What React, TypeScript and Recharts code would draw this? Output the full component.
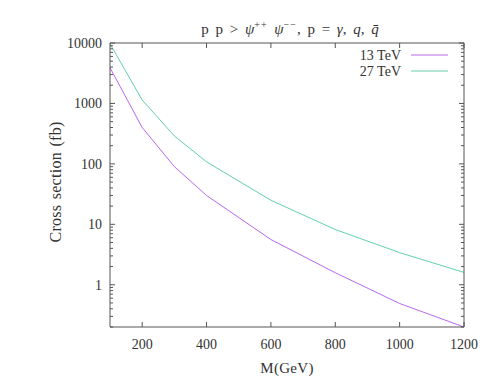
import React from 'react';
import { LineChart, Line, XAxis, YAxis } from 'recharts';

const masses = [100, 200, 300, 400, 600, 800, 1000, 1200];
const xsec13 = [3900, 400, 90, 30, 5.6, 1.58, 0.49, 0.2];
const xsec27 = [9700, 1140, 290, 108, 25, 8.2, 3.4, 1.6];

const xTicks = [200, 400, 600, 800, 1000, 1200];
const yDecades = [1, 10, 100, 1000, 10000];
const yMinor = [0.2, 0.3, 0.4, 0.5, 0.6, 0.7, 0.8, 0.9, 2, 3, 4, 5, 6, 7, 8, 9, 20, 30, 40, 50, 60, 70, 80, 90,
  200, 300, 400, 500, 600, 700, 800, 900, 2000, 3000, 4000, 5000, 6000, 7000, 8000, 9000];
const yTicks = [...yMinor, ...yDecades].sort((a, b) => a - b);

const seriesNames = ['13 TeV', '27 TeV'];
const colors = ['#b868ec', '#62d0a8'];

const data = masses.map((m, i) => ({ m, s13: xsec13[i], s27: xsec27[i] }));

const FONT = '"Liberation Serif", "DejaVu Serif", serif';
const TEXT = '#333';
const AXIS = '#555';

const BottomTick = (props: any) => {
  const { x, y, payload } = props;
  return (
    <g>
      <line x1={x} y1={y} x2={x} y2={y - 5} stroke={AXIS} />
      <text x={x} y={y + 22} textAnchor="middle" fontFamily={FONT} fontSize={14} fill={TEXT}>
        {payload.value}
      </text>
    </g>
  );
};

const TopTick = (props: any) => {
  const { x, y } = props;
  return <line x1={x} y1={y} x2={x} y2={y + 5} stroke={AXIS} />;
};

const LeftTick = (props: any) => {
  const { x, y, payload } = props;
  const major = yDecades.includes(payload.value);
  return (
    <g>
      <line x1={x} y1={y} x2={x + (major ? 5 : 3)} y2={y} stroke={AXIS} />
      {major && (
        <text x={x - 8} y={y + 5} textAnchor="end" fontFamily={FONT} fontSize={14} fill={TEXT}>
          {payload.value}
        </text>
      )}
    </g>
  );
};

const RightTick = (props: any) => {
  const { x, y, payload } = props;
  const major = yDecades.includes(payload.value);
  return <line x1={x} y1={y} x2={x - (major ? 5 : 3)} y2={y} stroke={AXIS} />;
};

export default function App() {
  return (
    <div style={{ position: 'absolute', left: 0, top: 0, width: 491, height: 382, background: '#fff' }}>
      <LineChart width={491} height={382} data={data} margin={{ top: 42, right: 26, bottom: 54, left: 109 }}>
        <XAxis
          dataKey="m"
          type="number"
          domain={[100, 1200]}
          ticks={xTicks}
          height={1}
          tickSize={0}
          tickMargin={0}
          tickLine={false}
          tick={<BottomTick />}
          stroke={AXIS}
          interval={0}
        />
        <XAxis
          xAxisId="top"
          orientation="top"
          dataKey="m"
          type="number"
          domain={[100, 1200]}
          ticks={xTicks}
          height={1}
          tickSize={0}
          tickMargin={0}
          tickLine={false}
          tick={<TopTick />}
          stroke={AXIS}
          interval={0}
        />
        <YAxis
          scale="log"
          domain={[0.2, 10000]}
          allowDataOverflow
          ticks={yTicks}
          width={1}
          tickSize={0}
          tickMargin={0}
          tickLine={false}
          tick={<LeftTick />}
          stroke={AXIS}
          interval={0}
        />
        <YAxis
          yAxisId="right"
          orientation="right"
          scale="log"
          domain={[0.2, 10000]}
          allowDataOverflow
          ticks={yTicks}
          width={1}
          tickSize={0}
          tickMargin={0}
          tickLine={false}
          tick={<RightTick />}
          stroke={AXIS}
          interval={0}
        />
        <Line dataKey="s13" stroke={colors[0]} strokeWidth={1} dot={false} isAnimationActive={false} />
        <Line dataKey="s27" stroke={colors[1]} strokeWidth={1} dot={false} isAnimationActive={false} />

        <text x={290} y={34} textAnchor="middle" fontFamily={FONT} fontSize={15} fill={TEXT} wordSpacing={3}>
          p p {'>'} <tspan fontStyle="italic">ψ</tspan>
          <tspan dy={-6} fontSize={10} letterSpacing={1}>++</tspan>
          <tspan dy={6}> </tspan>
          <tspan fontStyle="italic">ψ</tspan>
          <tspan dy={-6} fontSize={10} letterSpacing={1}>−−</tspan>
          <tspan dy={6}>, p = </tspan>
          <tspan fontStyle="italic">γ</tspan>, <tspan fontStyle="italic">q</tspan>, <tspan fontStyle="italic">q̄</tspan>
        </text>
        <text x={287} y={373} textAnchor="middle" fontFamily={FONT} fontSize={15} fill={TEXT} letterSpacing={0.3}>
          M(GeV)
        </text>
        <text
          x={55}
          y={182}
          textAnchor="middle"
          dominantBaseline="central"
          transform="rotate(-90 55 182)"
          fontFamily={FONT}
          fontSize={16}
          fill={TEXT}
          letterSpacing={0.3}
          wordSpacing={1}
        >
          Cross section (fb)
        </text>

        {seriesNames.map((name, i) => (
          <g key={name}>
            <text x={401} y={60 + i * 16} textAnchor="end" fontFamily={FONT} fontSize={14} fill={TEXT}>
              {name}
            </text>
            <line x1={411} y1={55 + i * 16} x2={448} y2={55 + i * 16} stroke={colors[i]} />
          </g>
        ))}
      </LineChart>
    </div>
  );
}
